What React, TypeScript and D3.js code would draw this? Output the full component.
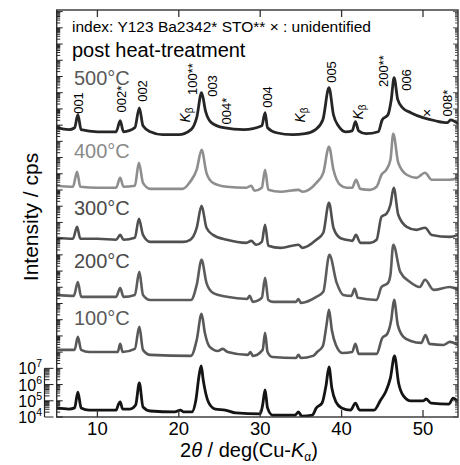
import React from 'react';
import * as d3 from 'd3';

const W = 460;
const H = 465;
const FRAME = { left: 56.7, right: 458, top: 10, bottom: 417 };
const FONT = '"Liberation Sans", Arial, Helvetica, sans-serif';

// x axis (2theta, deg) and y axis (log10 intensity, decades)
const xDomain = [5, 54.3];
const yDomain = [4, 29.1];
const xTicks = [10, 20, 30, 40, 50];
const yLabelDecades = [4, 5, 6, 7];

// series: [2theta, log10(cps)]
const asGrown: [number, number][] = [
  [5.0, 4.56], [6.5, 4.49], [7.2, 4.56], [7.6, 5.54], [8.0, 4.56], [9, 4.43], [12.3, 4.43], [12.6, 4.8], [12.8, 4.93], [13.1, 4.49],
  [14.0, 4.49], [14.7, 4.74], [15.15, 6.1], [15.6, 4.62], [16.5, 4.37], [19.5, 4.31], [20.2, 4.43], [20.6, 4.31], [21.6, 4.31],
  [22.1, 5.05], [22.5, 6.59], [22.75, 7.15], [23.0, 6.28], [23.3, 5.48], [23.7, 4.86], [24.5, 4.49], [25.7, 4.43], [27, 4.25],
  [30.0, 4.19], [30.3, 4.74], [30.6, 5.67], [30.9, 4.56], [31.5, 4.12], [34.3, 4.12], [34.7, 4.31], [35.1, 4.06], [36.4, 4.12],
  [36.9, 4.56], [37.6, 4.86], [38.1, 5.98], [38.45, 7.09], [38.8, 5.79], [39.3, 4.93], [40.0, 4.56], [41.1, 4.43], [41.7, 4.86],
  [42.2, 4.43], [44.0, 4.43], [44.8, 5.05], [45.4, 5.54], [46.0, 6.41], [46.5, 7.77], [47.0, 6.1], [47.6, 5.3], [48.5, 4.99],
  [50.0, 4.99], [50.4, 5.11], [51, 4.86], [53.2, 4.8], [53.7, 5.17], [54.3, 4.93],
];
const t100: [number, number][] = [
  [5.0, 4.64], [7.2, 4.64], [7.6, 5.44], [8.0, 4.64], [9, 4.51], [12.5, 4.51], [12.8, 5.01], [13.1, 4.51], [14.6, 4.7], [15.15, 6.06],
  [15.6, 4.64], [16.5, 4.33], [21.5, 4.27], [22.2, 5.25], [22.8, 6.86], [23.2, 5.69], [23.8, 4.82], [24.8, 4.57], [25.4, 4.7],
  [26, 4.51], [28.5, 4.33], [28.8, 4.51], [29.1, 4.27], [30.3, 4.64], [30.6, 5.69], [30.9, 4.51], [31.5, 4.2], [34.4, 4.14],
  [34.7, 4.33], [35.0, 4.14], [36.5, 4.27], [37.0, 4.51], [37.7, 4.88], [38.15, 6.18], [38.45, 7.11], [38.8, 5.87], [39.3, 4.94],
  [40.1, 4.45], [41.3, 4.51], [41.7, 5.01], [42.1, 4.39], [44.3, 4.39], [45.0, 5.38], [45.6, 5.62], [46.1, 6.49], [46.45, 7.73],
  [46.9, 6.18], [47.6, 5.44], [48.5, 5.19], [49.8, 5.07], [50.3, 5.56], [50.8, 5.01], [52.5, 4.94], [53.3, 5.13], [54.3, 4.94],
];
const t200: [number, number][] = [
  [5.0, 4.53], [7.1, 4.47], [7.6, 5.33], [8.0, 4.41], [10, 4.41], [12.3, 4.41], [12.8, 4.96], [13.2, 4.41], [14.6, 4.53], [15.15, 5.95],
  [15.6, 4.53], [16.5, 4.22], [21.5, 4.22], [22.2, 5.15], [22.8, 6.69], [23.4, 5.27], [24.2, 4.65], [25.9, 4.41], [28.4, 4.28],
  [28.7, 4.47], [29.1, 4.1], [30.2, 4.35], [30.6, 5.58], [31.0, 4.22], [31.6, 4.1], [34.4, 4.1], [34.7, 4.28], [35.0, 4.04],
  [36.9, 4.41], [37.75, 4.72], [38.5, 7.0], [39.4, 5.27], [40.2, 4.53], [41.2, 4.47], [41.6, 4.9], [42.0, 4.35], [44.3, 4.22],
  [44.9, 5.02], [45.7, 5.27], [46.0, 5.77], [46.35, 7.62], [47.2, 5.95], [48.4, 5.33], [49.6, 5.02], [50.25, 5.46], [51.3, 4.84],
  [53.3, 5.02], [54.3, 4.84],
];
const t300: [number, number][] = [
  [5.0, 4.55], [7.0, 4.49], [7.5, 5.23], [7.9, 4.49], [10, 4.49], [12.3, 4.43], [12.8, 4.73], [13.2, 4.43], [14.6, 4.55], [15.1, 5.72],
  [15.6, 4.73], [16.5, 4.3], [20.5, 4.3], [21.4, 4.43], [22.2, 5.17], [22.8, 6.52], [23.4, 5.17], [24.2, 4.73], [25.9, 4.43],
  [28.3, 4.24], [28.9, 4.36], [29.5, 4.12], [30.2, 4.3], [30.6, 5.35], [31.0, 4.06], [32.5, 3.93], [34.7, 4.12], [35.2, 3.93],
  [36.9, 4.43], [37.75, 4.86], [38.45, 6.71], [39.0, 5.17], [39.8, 4.55], [40.6, 4.43], [41.3, 4.36], [41.77, 4.73], [42.3, 4.24],
  [43.5, 4.24], [44.3, 4.43], [44.9, 5.85], [45.5, 6.03], [46.0, 6.59], [46.4, 7.64], [46.96, 5.97], [48.0, 5.23], [49.2, 5.04],
  [50.25, 5.17], [51.07, 4.73], [53.3, 4.61], [54.3, 4.73],
];
const t400: [number, number][] = [
  [5.0, 4.26], [7.0, 4.2], [7.5, 5.12], [7.9, 4.2], [10, 4.14], [12.3, 4.14], [12.8, 4.75], [13.2, 4.2], [14.6, 4.26], [15.1, 5.68],
  [15.6, 4.44], [16.5, 4.07], [20.5, 4.07], [21.4, 4.51], [22.2, 5.25], [22.8, 6.48], [23.4, 5.06], [24.2, 4.44], [25.9, 4.2],
  [28.3, 4.14], [28.9, 4.26], [29.3, 3.95], [30.2, 4.14], [30.6, 5.25], [31.0, 4.01], [32.5, 3.89], [34.7, 4.01], [35.2, 3.89],
  [36.9, 4.44], [37.75, 5.06], [38.45, 6.67], [39.0, 5.25], [39.8, 4.32], [40.6, 4.14], [41.3, 4.14], [41.77, 4.63], [42.3, 4.07],
  [43.5, 4.01], [44.3, 4.2], [44.9, 4.94], [45.5, 5.25], [46.0, 5.86], [46.35, 7.47], [46.96, 5.68], [48.0, 4.94], [49.2, 4.75],
  [50.25, 5.06], [51.07, 4.63], [53.3, 4.63], [54.3, 4.75],
];
const t500: [number, number][] = [
  [5.0, 4.34], [6.5, 4.22], [7.2, 4.34], [7.6, 5.14], [8.0, 4.22], [10, 4.09], [12.3, 4.09], [12.8, 4.77], [13.2, 4.09], [14.6, 4.34],
  [15.15, 5.57], [15.6, 4.46], [16.5, 4.09], [18.0, 3.91], [20.0, 3.91], [21.5, 4.22], [22.2, 4.96], [22.8, 6.5], [23.3, 5.33],
  [24.0, 4.65], [25.5, 4.34], [28, 4.22], [30.2, 4.46], [30.6, 5.27], [30.9, 4.34], [32, 4.03], [34, 3.91], [35.5, 3.97],
  [36.8, 4.22], [37.7, 4.83], [38.45, 6.81], [39.0, 5.14], [39.6, 4.46], [40.5, 4.09], [41.3, 4.15], [41.7, 4.71], [42.1, 4.15],
  [43, 3.97], [44.5, 4.09], [45.0, 4.83], [45.7, 5.14], [46.1, 6.07], [46.45, 7.43], [46.9, 6.07], [47.5, 5.57], [48.5, 5.27],
  [50, 4.96], [51.5, 4.77], [53.0, 4.65], [53.4, 4.83], [54.3, 4.59],
];

const seriesData = [asGrown, t100, t200, t300, t400, t500];
const seriesNames = ['', '100°C', '200°C', '300°C', '400°C', '500°C'];
const seriesOffsets = [0, 3.5, 7, 10.5, 14, 17.5]; // decades added for stacking

// peak index labels (500°C curve)
const peakLabels = ['001', '002*', '002', 'Kb', '100**', '003', '004*', '004', 'Kb', '005', 'Kb', '200**', '006', '×', '008*'];
const peakPositions = [7.62, 13.02, 15.48, 20.76, 21.74, 24.08, 25.92, 30.84, 34.9, 38.82, 42.0, 45.09, 48.0, 50.5, 52.97];

// styling / layout (not data)
const seriesColors = ['#141414', '#585858', '#5c5c5c', '#505050', '#8e8e8e', '#262626'];
const seriesWidths = [2.8, 2.6, 2.6, 2.6, 2.6, 2.8];
const nameColors = ['#000', '#5a5a5a', '#4a4a4a', '#4a4a4a', '#8a8a8a', '#5a5a5a'];
const nameBaselines = [0, 325, 268, 215, 158, 85];
const peakLabelY = [103, 99, 91, 115, 79, 86, 111, 97, 115, 72, 112, 71, 80, 113, 103];

export default function App() {
  const x = d3.scaleLinear().domain(xDomain).range([FRAME.left, FRAME.right]);
  const y = d3.scaleLinear().domain(yDomain).range([FRAME.bottom, FRAME.top]);

  const decadeTicks: { v: number; major: boolean }[] = [];
  for (let d = Math.floor(yDomain[0]); d <= Math.ceil(yDomain[1]); d++) {
    for (let m = 1; m <= 9; m++) {
      const v = d + Math.log10(m);
      if (v >= yDomain[0] - 1e-9 && v <= yDomain[1]) decadeTicks.push({ v, major: m === 1 });
    }
  }
  const miniTicks = decadeTicks.filter((t) => t.v <= 7 + 1e-9);
  const miniX = 44.5;

  return (
    <svg width={W} height={H} style={{ position: 'absolute', left: 0, top: 0, background: '#fff' }} fontFamily={FONT}>
      <defs>
        <clipPath id="plotclip">
          <rect x={FRAME.left} y={FRAME.top} width={FRAME.right - FRAME.left} height={FRAME.bottom - FRAME.top} />
        </clipPath>
      </defs>
      <rect x={0} y={0} width={W} height={H} fill="#fff" />

      {/* curves */}
      <g clipPath="url(#plotclip)">
        {seriesData.map((s, i) => {
          const line = d3
            .line<[number, number]>()
            .x((d) => x(d[0]))
            .y((d) => y(d[1] + seriesOffsets[i]))
            .curve(d3.curveMonotoneX);
          return (
            <path key={i} d={line(s) || ''} fill="none" stroke={seriesColors[i]} strokeWidth={seriesWidths[i]}
              strokeLinejoin="round" strokeLinecap="round" />
          );
        })}
      </g>

      {/* frame */}
      <rect x={FRAME.left} y={FRAME.top} width={FRAME.right - FRAME.left} height={FRAME.bottom - FRAME.top}
        fill="none" stroke="#333" strokeWidth={1.4} />

      {/* x ticks top and bottom */}
      {xTicks.map((t) => (
        <g key={t}>
          <line x1={x(t)} x2={x(t)} y1={FRAME.bottom} y2={FRAME.bottom - 7} stroke="#333" strokeWidth={1.3} />
          <line x1={x(t)} x2={x(t)} y1={FRAME.top} y2={FRAME.top + 7} stroke="#333" strokeWidth={1.3} />
          <text x={x(t)} y={435} textAnchor="middle" fontSize={18.5} fill="#000">{t}</text>
        </g>
      ))}

      {/* y ticks left and right frame */}
      {decadeTicks.map((t, i) => (
        <g key={i}>
          <line x1={FRAME.left} x2={FRAME.left + (t.major ? 6 : 3.5)} y1={y(t.v)} y2={y(t.v)} stroke="#222" strokeWidth={1} />
          <line x1={FRAME.right} x2={FRAME.right - (t.major ? 5 : 3)} y1={y(t.v)} y2={y(t.v)} stroke="#444" strokeWidth={0.9} />
        </g>
      ))}

      {/* mini y axis with labels */}
      <line x1={miniX} x2={miniX} y1={y(4)} y2={y(7)} stroke="#222" strokeWidth={1.2} />
      {miniTicks.map((t, i) => (
        <line key={i} x1={miniX} x2={miniX + (t.major ? 9 : 5)} y1={y(t.v)} y2={y(t.v)} stroke="#222" strokeWidth={1} />
      ))}
      {yLabelDecades.map((d) => (
        <text key={d} x={42} y={y(d) + 6} textAnchor="end" fontSize={16} fill="#000">
          10<tspan fontSize={10.5} dy={-7}>{d}</tspan>
        </text>
      ))}

      {/* axis titles */}
      <text transform={`translate(38,217) rotate(-90)`} textAnchor="middle" fontSize={21} fill="#000">Intensity / cps</text>
      <text x={180} y={457} fontSize={20} fill="#000">
        2<tspan fontStyle="italic">θ</tspan> / deg(Cu-<tspan fontStyle="italic">K</tspan>
        <tspan fontSize={12} dy={4}>α</tspan><tspan dy={-4}>)</tspan>
      </text>

      {/* legend texts */}
      <text x={72} y={32} fontSize={15.5} fill="#000">index: Y123  Ba2342*  STO**  × : unidentified</text>
      <text x={72} y={57} fontSize={20} fill="#000">post heat-treatment</text>
      {seriesNames.map((n, i) =>
        n ? (
          <text key={n} x={74} y={nameBaselines[i]} fontSize={20} fill={nameColors[i]}>{n}</text>
        ) : null
      )}

      {/* peak labels */}
      {peakLabels.map((l, i) => (
        <text key={i} transform={`translate(${x(peakPositions[i])},${peakLabelY[i]}) rotate(-90)`}
          textAnchor="middle" dominantBaseline="central" fontSize={l === '×' ? 14 : 13} fill="#000">
          {l === 'Kb' ? (
            <>
              <tspan fontStyle="italic" fontSize={14}>K</tspan>
              <tspan fontSize={10} dy={4}>β</tspan>
            </>
          ) : l}
        </text>
      ))}
    </svg>
  );
}
